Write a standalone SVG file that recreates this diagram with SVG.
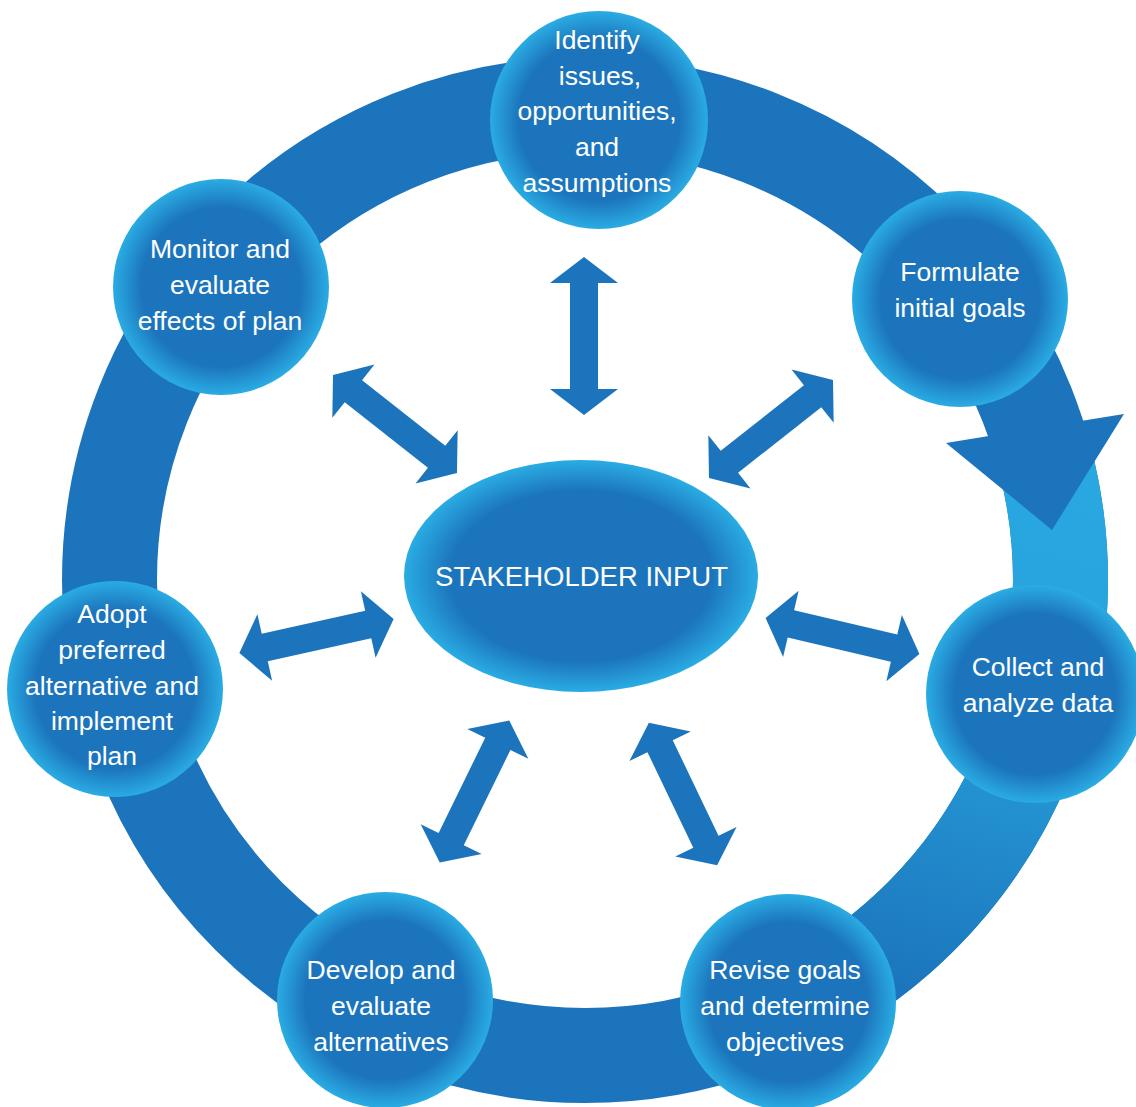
<svg xmlns="http://www.w3.org/2000/svg" xmlns:xlink="http://www.w3.org/1999/xlink" width="1136" height="1107" viewBox="0 0 1136 1107">
<style>
.ring{fill:none;stroke:#1c75bc;stroke-width:95}
.arr{fill:#1c75bc}
.node{fill:url(#ballGrad)}
.lbl{font-family:"Liberation Sans",Arial,sans-serif;font-size:26.5px;fill:#ffffff;text-anchor:middle}
.big{font-family:"Liberation Sans",Arial,sans-serif;font-size:27.5px;fill:#ffffff;text-anchor:middle}
</style>
<defs>
<radialGradient id="ballGrad" cx="0.5" cy="0.5" r="0.5">
<stop offset="0" stop-color="#1c75bc"/>
<stop offset="0.74" stop-color="#1c75bc"/>
<stop offset="1" stop-color="#2aace3"/>
</radialGradient>
<linearGradient id="segGrad" gradientUnits="userSpaceOnUse" x1="1060" y1="430" x2="900" y2="990">
<stop offset="0" stop-color="#29a9e1"/>
<stop offset="0.42" stop-color="#27a2dc"/>
<stop offset="1" stop-color="#1c75bc"/>
</linearGradient>
<path id="dbl" d="M-79,0 L-53,-34 L-53,-14 L53,-14 L53,-34 L79,0 L53,34 L53,14 L-53,14 L-53,34 Z"/>
</defs>

<g id="cycle-ring">
<circle class="ring" cx="585" cy="580" r="475.5"/>
<path d="M1046.4,465 A475.5,475.5 0 0 1 822.75,991.8" fill="none" stroke="url(#segGrad)" stroke-width="95"/>
<polygon points="946,443 1124,414 1052,530" fill="#1c75bc"/>
</g>

<g id="connectors">
<use xlink:href="#dbl" class="arr" transform="translate(584,336) rotate(90)"/>
<use xlink:href="#dbl" class="arr" transform="translate(395,424) rotate(38.3)"/>
<use xlink:href="#dbl" class="arr" transform="translate(771,429) rotate(-38.3)"/>
<use xlink:href="#dbl" class="arr" transform="translate(316.5,636) rotate(-12.5)"/>
<use xlink:href="#dbl" class="arr" transform="translate(842.5,636) rotate(13.2)"/>
<use xlink:href="#dbl" class="arr" transform="translate(474.5,791.5) rotate(116.1)"/>
<use xlink:href="#dbl" class="arr" transform="translate(683,794) rotate(64.4)"/>
</g>

<g id="node-identify">
<circle class="node" cx="599" cy="120" r="109"/>
<text class="lbl" x="597" y="49">Identify</text>
<text class="lbl" x="600" y="85">issues,</text>
<text class="lbl" x="597" y="120">opportunities,</text>
<text class="lbl" x="597" y="156">and</text>
<text class="lbl" x="597" y="192">assumptions</text>
</g>

<g id="node-formulate">
<circle class="node" cx="960" cy="299" r="108"/>
<text class="lbl" x="960" y="281">Formulate</text>
<text class="lbl" x="960" y="317">initial goals</text>
</g>

<g id="node-collect">
<circle class="node" cx="1035" cy="694" r="109"/>
<text class="lbl" x="1038" y="676">Collect and</text>
<text class="lbl" x="1038" y="712">analyze data</text>
</g>

<g id="node-revise">
<circle class="node" cx="788" cy="1002" r="108"/>
<text class="lbl" x="785" y="979">Revise goals</text>
<text class="lbl" x="785" y="1015">and determine</text>
<text class="lbl" x="785" y="1051">objectives</text>
</g>

<g id="node-develop">
<circle class="node" cx="385" cy="1000" r="108"/>
<text class="lbl" x="381" y="979">Develop and</text>
<text class="lbl" x="381" y="1015">evaluate</text>
<text class="lbl" x="381" y="1051">alternatives</text>
</g>

<g id="node-adopt">
<circle class="node" cx="115" cy="689" r="108"/>
<text class="lbl" x="112" y="623">Adopt</text>
<text class="lbl" x="112" y="659">preferred</text>
<text class="lbl" x="112" y="695">alternative and</text>
<text class="lbl" x="112" y="730">implement</text>
<text class="lbl" x="112" y="765">plan</text>
</g>

<g id="node-monitor">
<circle class="node" cx="221" cy="287" r="108"/>
<text class="lbl" x="220" y="258">Monitor and</text>
<text class="lbl" x="220" y="294">evaluate</text>
<text class="lbl" x="220" y="330">effects of plan</text>
</g>

<g id="node-stakeholder">
<ellipse cx="581" cy="576" rx="177" ry="116" fill="url(#ballGrad)"/>
<text class="big" x="581.5" y="586">STAKEHOLDER INPUT</text>
</g>
</svg>
